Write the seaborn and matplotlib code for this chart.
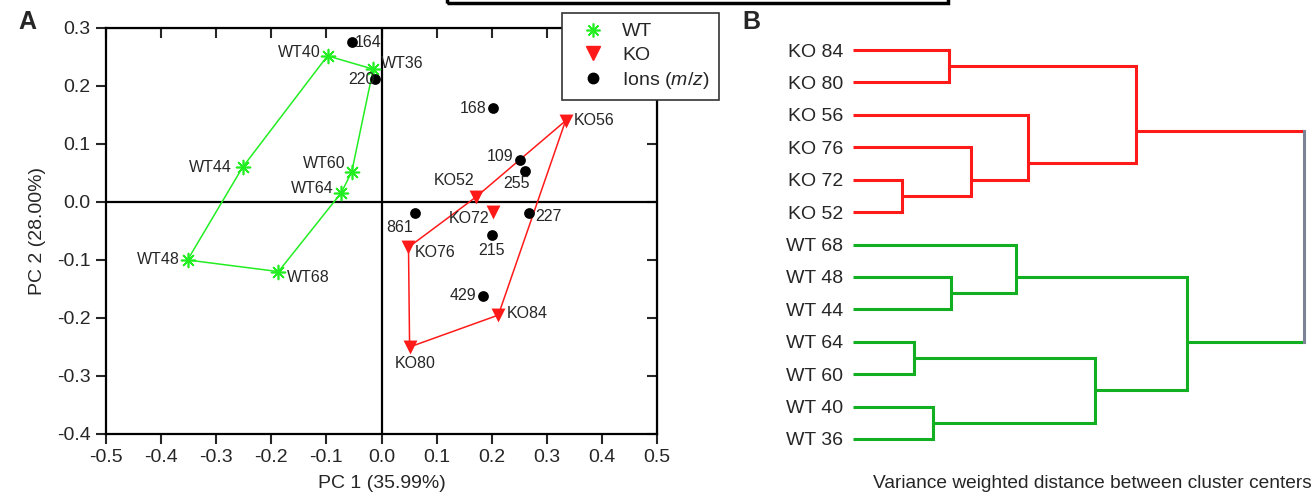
import matplotlib
matplotlib.use("Agg")
import matplotlib.pyplot as plt
import seaborn as sns
import numpy as np
from matplotlib.lines import Line2D
from matplotlib.patches import Rectangle

# ── Panel A: PCA scores ─────────────────────────
wt_names = ["WT40", "WT36", "WT60", "WT64", "WT68", "WT48", "WT44"]
wt_pc1 = [-0.098, -0.015, -0.054, -0.073, -0.187, -0.352, -0.252]
wt_pc2 = [0.252, 0.229, 0.052, 0.016, -0.120, -0.100, 0.060]
wt_hull = ["WT40", "WT36", "WT60", "WT64", "WT68", "WT48", "WT44", "WT40"]

ko_names = ["KO56", "KO52", "KO76", "KO80", "KO84", "KO72"]
ko_pc1 = [0.334, 0.172, 0.049, 0.051, 0.212, 0.203]
ko_pc2 = [0.140, 0.009, -0.078, -0.250, -0.195, -0.017]
ko_hull = ["KO56", "KO52", "KO76", "KO80", "KO84", "KO56"]

ion_names = ["164", "220", "168", "109", "255", "861", "227", "215", "429"]
ion_pc1 = [-0.053, -0.011, 0.203, 0.252, 0.261, 0.060, 0.267, 0.200, 0.185]
ion_pc2 = [0.276, 0.212, 0.162, 0.072, 0.053, -0.019, -0.019, -0.057, -0.162]

# ── Panel B: dendrogram ─────────────────────────
leaf_labels = ["KO 84", "KO 80", "KO 56", "KO 76", "KO 72", "KO 52",
               "WT 68", "WT 48", "WT 44", "WT 64", "WT 60", "WT 40", "WT 36"]
merge_left = [0, 4, 3, 2, 13, 7, 6, 9, 11, 20, 19, 17]
merge_right = [1, 5, 14, 15, 16, 8, 18, 10, 12, 21, 22, 23]
merge_dist = [0.213, 0.109, 0.262, 0.388, 0.627, 0.217, 0.361, 0.135, 0.177, 0.537, 0.741, 1.0]

# label placement (offset pixels, alignment)
label_pos = {
    "WT40": (-7, 3, "right"), "WT36": (8, 6, "left"), "WT60": (-6, 8, "right"),
    "WT64": (-8, 4, "right"), "WT68": (8, -6, "left"), "WT48": (-8, 1, "right"),
    "WT44": (-11, 0, "right"), "KO56": (8, 0, "left"), "KO52": (-2, 16, "right"),
    "KO76": (6, -5, "left"), "KO80": (6, -16, "center"), "KO84": (8, 2, "left"),
    "KO72": (-4, -7, "right"),
    "164": (2, -1, "left"), "220": (-1, 0, "right"), "168": (-7, 0, "right"),
    "109": (-7, 4, "right"), "255": (-9, -12, "center"), "861": (-15, -14, "center"),
    "227": (7, -3, "left"), "215": (0, -15, "center"), "429": (-7, 0, "right"),
}

GREEN = "#22ee22"
RED = "#ff1a1a"
DGREEN = "#12b020"
ROOT = "#7c8396"

sns.set_style("ticks")
plt.rcParams["font.family"] = ["Liberation Sans", "DejaVu Sans"]
plt.rcParams["axes.unicode_minus"] = False
plt.rcParams["mathtext.fontset"] = "custom"
plt.rcParams["mathtext.it"] = "Liberation Sans:italic"
plt.rcParams["mathtext.rm"] = "Liberation Sans"

fig = plt.figure(figsize=(13.16, 5.01), dpi=100)
ax = fig.add_axes([106 / 1316, 67 / 501, 551 / 1316, 406 / 501])

ax.axhline(0, color="black", lw=1.6, zorder=1)
ax.axvline(0, color="black", lw=1.6, zorder=1)

wt = dict(zip(wt_names, zip(wt_pc1, wt_pc2)))
ko = dict(zip(ko_names, zip(ko_pc1, ko_pc2)))
sns.lineplot(x=[wt[n][0] for n in wt_hull], y=[wt[n][1] for n in wt_hull],
             sort=False, estimator=None, color=GREEN, lw=1.1, ax=ax, zorder=2)
sns.lineplot(x=[ko[n][0] for n in ko_hull], y=[ko[n][1] for n in ko_hull],
             sort=False, estimator=None, color=RED, lw=1.1, ax=ax, zorder=2)

ax.scatter(wt_pc1, wt_pc2, marker=(8, 2, 0), s=100, color=GREEN, linewidths=1.2, zorder=3)
sns.scatterplot(x=ko_pc1, y=ko_pc2, marker="v", s=100, color=RED, edgecolor=RED,
                linewidth=0, ax=ax, zorder=3)
sns.scatterplot(x=ion_pc1, y=ion_pc2, marker="o", s=60, color="black", edgecolor="black",
                linewidth=0, ax=ax, zorder=4)

for names, xs, ys in [(wt_names, wt_pc1, wt_pc2), (ko_names, ko_pc1, ko_pc2),
                      (ion_names, ion_pc1, ion_pc2)]:
    for n, x, y in zip(names, xs, ys):
        dx, dy, ha = label_pos[n]
        ax.annotate(n, (x, y), xytext=(dx, dy), textcoords="offset pixels",
                    ha=ha, va="center", fontsize=11.5, zorder=5)

ax.set_xlim(-0.5, 0.5)
ax.set_ylim(-0.4, 0.3)
xt = np.arange(-5, 6) / 10
yt = np.arange(-4, 4) / 10
ax.set_xticks(xt, [f"{v:.1f}" for v in xt])
ax.set_yticks(yt, [f"{v:.1f}" for v in yt])
ax.tick_params(direction="out", length=7, width=1.5, labelsize=14, pad=4)
for s in ax.spines.values():
    s.set_linewidth(1.6)
    s.set_color("black")
ax.set_xlabel("PC 1 (35.99%)", fontsize=14, labelpad=6)
ax.set_ylabel("PC 2 (28.00%)", fontsize=14, labelpad=8)

top = ax.secondary_xaxis("top")
top.set_xticks(xt)
top.tick_params(direction="in", length=7, width=1.5, labeltop=False)
right = ax.secondary_yaxis("right")
right.set_yticks(yt)
right.tick_params(direction="in", length=7, width=1.5, labelright=False)

handles = [
    Line2D([], [], ls="none", marker=(8, 2, 0), ms=10, mew=1.2, color=GREEN),
    Line2D([], [], ls="none", marker="v", ms=10, color=RED),
    Line2D([], [], ls="none", marker="o", ms=7.5, color="black"),
]
leg = ax.legend(handles, ["WT", "KO", r"Ions ($\mathit{m/z}$)"],
                loc="upper left", bbox_to_anchor=(562 / 1316, 1 - 13 / 501),
                bbox_transform=fig.transFigure, borderaxespad=0, fontsize=14,
                frameon=True, fancybox=False, framealpha=1, edgecolor="#333333",
                borderpad=0.5, handlelength=2.2, handletextpad=0.4, labelspacing=0.3)
leg.get_frame().set_linewidth(1.2)
leg.set_zorder(10)

# ── Panel B ──────────────────────────────────────
bx = fig.add_axes([853 / 1316, 45.8 / 501, 451 / 1316, 421.4 / 501])
n_leaf = len(leaf_labels)
members = {i: [i] for i in range(n_leaf)}
height = {i: 0.0 for i in range(n_leaf)}
for k, (a, b, d) in enumerate(zip(merge_left, merge_right, merge_dist)):
    node = n_leaf + k
    members[node] = members[a] + members[b]
    height[node] = d


def node_y(i):
    return np.mean(members[i])


def node_color(i):
    groups = {leaf_labels[j][:2] for j in members[i]}
    if groups == {"KO"}:
        return RED
    if groups == {"WT"}:
        return DGREEN
    return ROOT


for k, (a, b, d) in enumerate(zip(merge_left, merge_right, merge_dist)):
    node = n_leaf + k
    for c in (a, b):
        bx.plot([height[c], d], [node_y(c), node_y(c)], color=node_color(c),
                lw=2.2, clip_on=False, solid_capstyle="butt")
    bx.plot([d, d], [node_y(a), node_y(b)], color=node_color(node), lw=2.2,
            clip_on=False, solid_capstyle="projecting")

bx.set_xlim(0, 1.0)
bx.set_ylim(n_leaf - 0.5, -0.5)
bx.set_yticks(range(n_leaf), leaf_labels)
bx.set_xticks([])
bx.tick_params(axis="y", length=0, pad=7, labelsize=14)
sns.despine(ax=bx, left=True, bottom=True)

fig.text(1312 / 1316, 1 - 483 / 501, "Variance weighted distance between cluster centers",
         ha="right", va="center", fontsize=13.8)

fig.text(18 / 1316, 1 - 22 / 501, "A", fontsize=18, fontweight="bold", va="center")
fig.text(742 / 1316, 1 - 22 / 501, "B", fontsize=18, fontweight="bold", va="center")

fig.add_artist(Rectangle((447 / 1316, 1 - 3 / 501), 501 / 1316, 20 / 501,
                         transform=fig.transFigure, fill=False, lw=2.5,
                         edgecolor="black"))

fig.savefig("out.png", dpi=100)
